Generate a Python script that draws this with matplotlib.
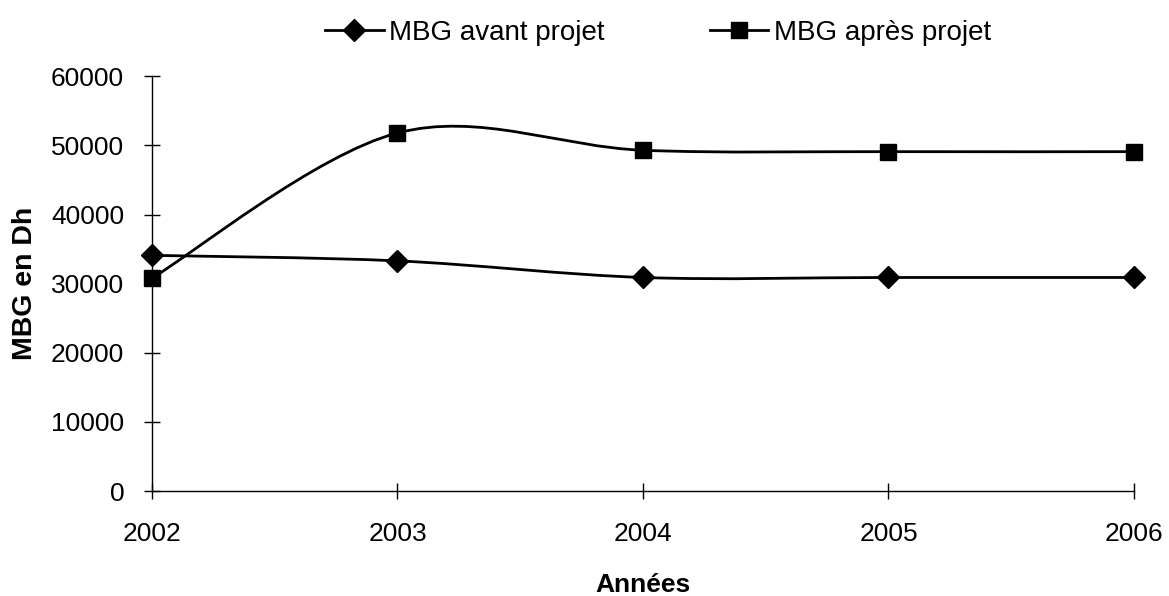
import numpy as np
import matplotlib
matplotlib.use('Agg')
import matplotlib.pyplot as plt
from matplotlib.path import Path
from matplotlib.patches import PathPatch
from matplotlib.lines import Line2D

years = [2002, 2003, 2004, 2005, 2006]
mbg_avant = [34100, 33300, 30900, 30900, 30900]
mbg_apres = [30800, 51800, 49300, 49100, 49100]


def smooth_path(x, y):
    # Excel-style smoothed line: cubic Bezier with 1/6 tangent control points
    pts = np.column_stack([x, y]).astype(float)
    ext = np.vstack([pts[0], pts, pts[-1]])
    verts = [tuple(pts[0])]
    codes = [Path.MOVETO]
    for i in range(len(pts) - 1):
        p0, p1, p2, p3 = ext[i], ext[i + 1], ext[i + 2], ext[i + 3]
        c1 = p1 + (p2 - p0) / 6.0
        c2 = p2 - (p3 - p1) / 6.0
        verts += [tuple(c1), tuple(c2), tuple(p2)]
        codes += [Path.CURVE4] * 3
    return Path(verts, codes)


def main():
    plt.rcParams['font.family'] = ['Liberation Sans', 'DejaVu Sans']

    fig = plt.figure(figsize=(11.69, 5.96), dpi=100)
    ax = fig.add_axes([0.130, 0.176, 0.840, 0.696])

    for vals, mk, ms in [(mbg_avant, 'D', 11), (mbg_apres, 's', 11.5)]:
        ax.add_patch(PathPatch(smooth_path(years, vals), facecolor='none',
                               edgecolor='black', lw=2.0, zorder=2))
        ax.plot(years, vals, linestyle='none', marker=mk, markersize=ms,
                color='black', zorder=3, clip_on=False)

    ax.set_xlim(2002, 2006)
    ax.set_ylim(0, 60000)
    ax.set_xticks(years)
    ax.set_yticks(np.arange(0, 60001, 10000))
    for s in ['top', 'right']:
        ax.spines[s].set_visible(False)
    ax.spines['left'].set_linewidth(1.0)
    ax.spines['bottom'].set_linewidth(1.0)
    ax.tick_params(direction='inout', length=12, width=1.0, labelsize=19)
    ax.tick_params(axis='y', pad=14)
    ax.tick_params(axis='x', pad=16)

    ax.set_xlabel('Années', fontsize=19, fontweight='bold', labelpad=20)
    ax.set_ylabel('MBG en Dh', fontsize=20.5, fontweight='bold', labelpad=9)

    handles = [
        Line2D([], [], color='black', lw=2.0, marker='D', markersize=11),
        Line2D([], [], color='black', lw=2.0, marker='s', markersize=12),
    ]
    fig.legend(handles, ['MBG avant projet', 'MBG après projet'],
               loc='center', bbox_to_anchor=(0.563, 0.945), ncol=2,
               frameon=False, handlelength=2.1, handletextpad=0.2,
               columnspacing=3.8, fontsize=20)

    fig.savefig('out.png', dpi=100)


if __name__ == '__main__':
    main()
